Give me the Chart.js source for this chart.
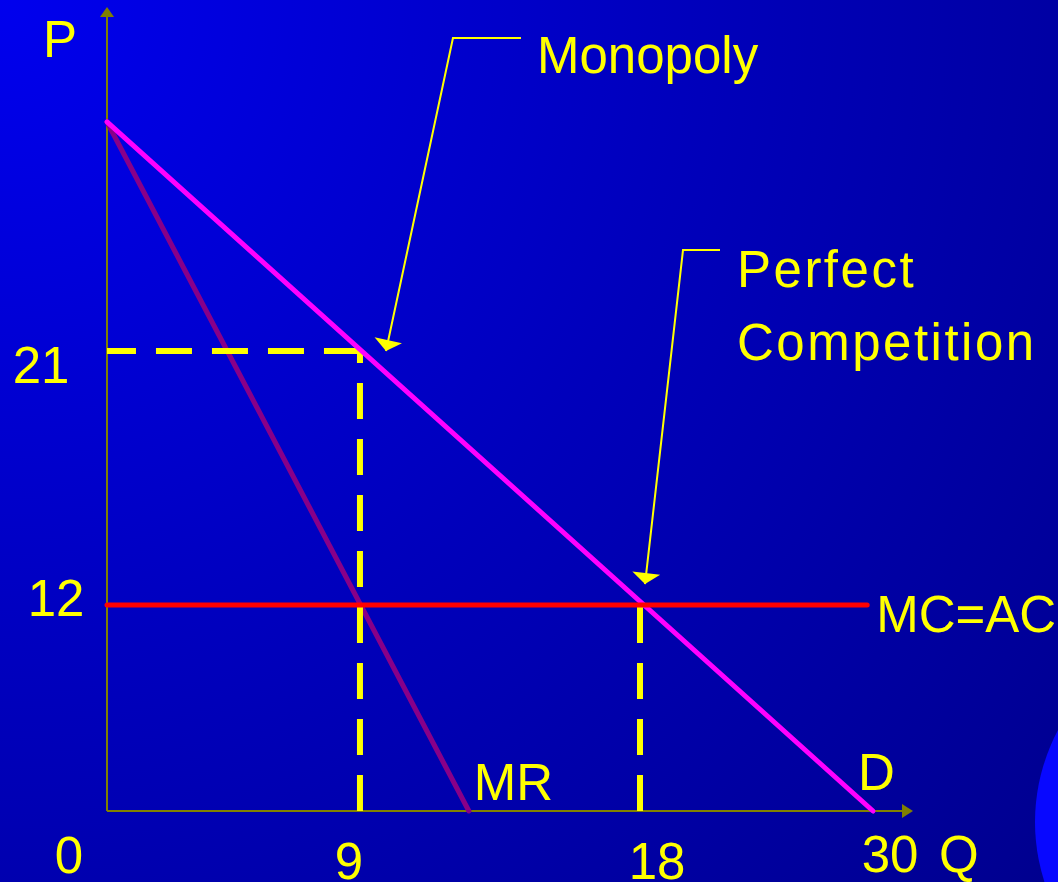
<!DOCTYPE html>
<html>
<head>
<meta charset="utf-8">
<script src="https://cdn.jsdelivr.net/npm/chart.js@4/dist/chart.umd.min.js"></script>
<style>
html,body{margin:0;padding:0;background:#0000b0;overflow:hidden}
canvas{display:block}
</style>
</head>
<body>
<canvas id="c" width="1058" height="882"></canvas>
<script>
// ---- data ----
const xTickValues = [0, 9, 18, 30];
const xTickLabels = ['0', '9', '18', '30'];
const yTickValues = [12, 21];
const yTickLabels = ['12', '21'];

const demandQ = [0, 30];
const demandP = [30, 0];
const mrQ = [0, 12.5];
const mrP = [30, 0];
const mcQ = [0, 29.7];
const mcP = [12, 12];

const monopolyQ = 9;
const monopolyP = 21;
const competitiveQ = 18;
const competitiveP = 12;

const axisTitles = ['Q', 'P'];
const seriesLabels = ['D', 'MR', 'MC=AC'];
const calloutLabels = [['Monopoly'], ['Perfect', 'Competition']];

// ---- hand-drawn (non uniform) axis scale: value -> fraction of axis ----
const SKETCH_KNOTS = {
  x: [[0, 0], [9, 0.3178], [18, 0.6696], [30, 0.9623]],
  y: [[0, 0], [12, 0.2594], [21, 0.5793], [30, 0.8678]]
};
class SketchScale extends Chart.LinearScale {
  static id = 'sketch';
  static defaults = {};
  _knots() { return SKETCH_KNOTS[this.id] || [[this.min, 0], [this.max, 1]]; }
  _toDecimal(v) {
    const k = this._knots();
    let i = 0;
    while (i < k.length - 2 && v > k[i + 1][0]) i++;
    const a = k[i], b = k[i + 1];
    return a[1] + (v - a[0]) * (b[1] - a[1]) / (b[0] - a[0]);
  }
  _fromDecimal(d) {
    const k = this._knots();
    let i = 0;
    while (i < k.length - 2 && d > k[i + 1][1]) i++;
    const a = k[i], b = k[i + 1];
    return a[0] + (d - a[1]) * (b[0] - a[0]) / (b[1] - a[1]);
  }
  getPixelForValue(value) {
    if (value === null || value === undefined || isNaN(value)) return NaN;
    return this.getPixelForDecimal(this._toDecimal(value));
  }
  getValueForPixel(pixel) {
    return this._fromDecimal(this.getDecimalForPixel(pixel));
  }
}
Chart.register(SketchScale);

const pts = (xs, ys) => xs.map((x, i) => ({ x: x, y: ys[i] }));

const YELLOW = '#ffff00';
const OLIVE = '#808000';
const FONT = '51px "Liberation Sans", Arial, sans-serif';

const decorPlugin = {
  id: 'decor',
  beforeDraw(chart) {
    const ctx = chart.ctx, W = chart.width, H = chart.height;
    ctx.save();
    const g = ctx.createRadialGradient(0, 0, 0, 0, 0, 1380);
    g.addColorStop(0, '#0000ee');
    g.addColorStop(0.5, '#0000bc');
    g.addColorStop(1, '#00008e');
    ctx.fillStyle = g;
    ctx.fillRect(0, 0, W, H);
    // decorative bright circle bottom-right
    ctx.fillStyle = '#0808ff';
    ctx.beginPath();
    ctx.arc(1230, 822, 195, 0, Math.PI * 2);
    ctx.fill();
    ctx.restore();
  },
  beforeDatasetsDraw(chart) {
    const ctx = chart.ctx, a = chart.chartArea;
    ctx.save();
    ctx.strokeStyle = OLIVE;
    ctx.fillStyle = OLIVE;
    ctx.lineWidth = 2;
    ctx.beginPath();
    ctx.moveTo(a.left, a.bottom);
    ctx.lineTo(a.left, a.top);
    ctx.moveTo(a.left, a.bottom);
    ctx.lineTo(a.right, a.bottom);
    ctx.stroke();
    // arrow heads
    ctx.beginPath();
    ctx.moveTo(a.left - 7, a.top);
    ctx.lineTo(a.left, a.top - 10);
    ctx.lineTo(a.left + 7, a.top);
    ctx.closePath();
    ctx.fill();
    ctx.beginPath();
    ctx.moveTo(a.right - 1, a.bottom - 7);
    ctx.lineTo(a.right + 10, a.bottom);
    ctx.lineTo(a.right - 1, a.bottom + 7);
    ctx.closePath();
    ctx.fill();
    ctx.restore();
  },
  afterDraw(chart) {
    const ctx = chart.ctx, xs = chart.scales.x, ys = chart.scales.y, a = chart.chartArea;
    ctx.save();
    ctx.fillStyle = YELLOW;
    ctx.strokeStyle = YELLOW;
    ctx.font = FONT;
    ctx.textBaseline = 'alphabetic';

    // x tick labels (offsets from the tick's pixel)
    const xOff = [[-38, 873], [-11, 879], [17, 879], [17, 872]];
    ctx.textAlign = 'center';
    xTickValues.forEach((v, i) => {
      ctx.fillText(xTickLabels[i], xs.getPixelForValue(v) + xOff[i][0], xOff[i][1]);
    });
    // y tick labels
    const yOff = [[56, 11], [41, 32]];
    yTickValues.forEach((v, i) => {
      ctx.fillText(yTickLabels[i], yOff[i][0], ys.getPixelForValue(v) + yOff[i][1]);
    });
    // axis titles
    ctx.textAlign = 'left';
    ctx.fillText(axisTitles[0], 939, 872);
    ctx.fillText(axisTitles[1], 43, 57);
    // series labels
    ctx.fillText(seriesLabels[0], xs.getPixelForValue(demandQ[1]) - 15, 790);
    ctx.fillText(seriesLabels[1], xs.getPixelForValue(mrQ[1]) + 5, 800);
    ctx.fillText(seriesLabels[2], xs.getPixelForValue(mcQ[1]) + 9, ys.getPixelForValue(mcP[1]) + 27);

    // callouts
    ctx.fillText(calloutLabels[0][0], 537, 73);
    ctx.letterSpacing = '2.5px';
    ctx.fillText(calloutLabels[1][0], 737, 287);
    ctx.fillText(calloutLabels[1][1], 737, 360);
    ctx.letterSpacing = '0px';

    function callout(tx, ty, ex, ey, len) {
      ctx.lineWidth = 2;
      ctx.beginPath();
      ctx.moveTo(ex + len, ey);
      ctx.lineTo(ex, ey);
      ctx.lineTo(tx, ty);
      ctx.stroke();
      const dx = tx - ex, dy = ty - ey, L = Math.hypot(dx, dy);
      const ux = dx / L, uy = dy / L;
      const bx = tx - ux * 11, by = ty - uy * 11;
      ctx.beginPath();
      ctx.moveTo(tx, ty);
      ctx.lineTo(bx + uy * 14, by - ux * 14);
      ctx.lineTo(bx - uy * 14, by + ux * 14);
      ctx.closePath();
      ctx.fill();
    }
    const mx = xs.getPixelForValue(monopolyQ), my = ys.getPixelForValue(monopolyP);
    callout(mx + 26, my, mx + 93, my - 313, 68);
    const cx = xs.getPixelForValue(competitiveQ), cy = ys.getPixelForValue(competitiveP);
    callout(cx + 5, cy - 21, cx + 43, cy - 355, 37);
    ctx.restore();
  }
};

const lineDs = (label, data, color, width, order, extra) => Object.assign({
  label: label, data: data, showLine: true, borderColor: color, backgroundColor: color,
  borderWidth: width, pointRadius: 0, pointHoverRadius: 0, fill: false, tension: 0,
  clip: false, order: order, borderCapStyle: 'round'
}, extra || {});

const dash = { borderDash: [36, 20], borderCapStyle: 'butt' };

new Chart(document.getElementById('c'), {
  type: 'scatter',
  data: {
    datasets: [
      lineDs('MC=AC', pts(mcQ, mcP), '#ff0000', 5, 1),
      lineDs('D', pts(demandQ, demandP), '#ff00ff', 5, 2),
      lineDs('Monopoly price', [{ x: monopolyQ, y: monopolyP }, { x: 0, y: monopolyP }], YELLOW, 6, 3, dash),
      lineDs('Monopoly quantity', [{ x: monopolyQ, y: 0 }, { x: monopolyQ, y: monopolyP }], YELLOW, 6, 3, dash),
      lineDs('Competitive quantity', [{ x: competitiveQ, y: 0 }, { x: competitiveQ, y: competitiveP }], YELLOW, 6, 3, dash),
      lineDs('MR', pts(mrQ, mrP), '#880088', 5, 4)
    ]
  },
  options: {
    responsive: false,
    animation: false,
    devicePixelRatio: 1,
    layout: { padding: { left: 107, right: 155, top: 17, bottom: 71 } },
    plugins: { legend: { display: false }, tooltip: { enabled: false } },
    events: [],
    scales: {
      x: { type: 'sketch', min: 0, max: 31.5, display: false },
      y: { type: 'sketch', min: 0, max: 34.5, display: false }
    }
  },
  plugins: [decorPlugin]
});
</script>
</body>
</html>
